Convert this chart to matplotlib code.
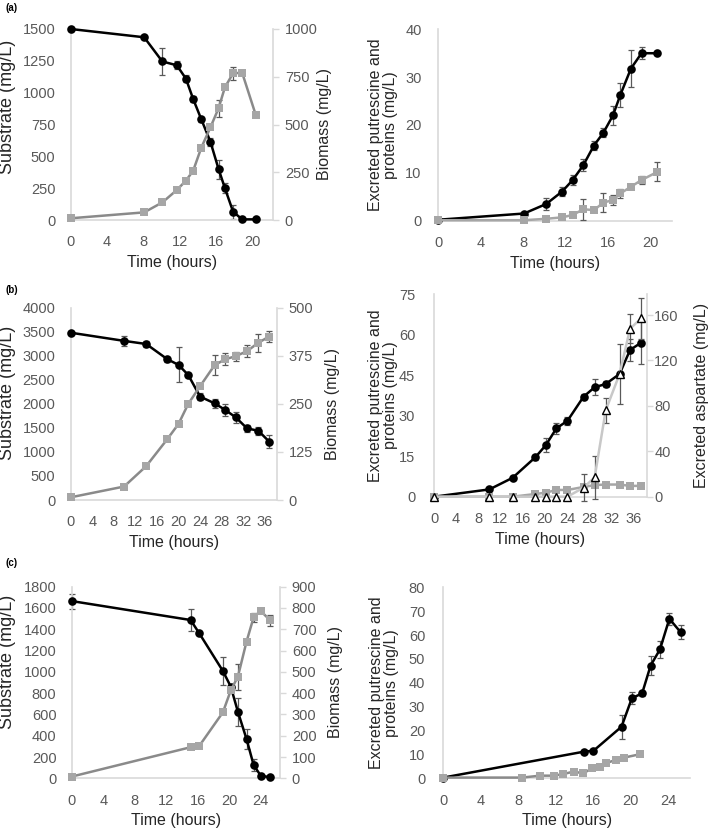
import numpy as np
import matplotlib
matplotlib.use("Agg")
import matplotlib.pyplot as plt

plt.rcParams["font.family"] = ["Liberation Sans", "DejaVu Sans"]

# ---- (a) ----
t_a = [0, 8.1, 10.1, 11.7, 12.7, 13.5, 14.4, 15.4, 16.3, 17.0, 17.9, 18.9, 20.4]
substrate_a = [1500, 1435, 1245, 1215, 1110, 950, 790, 615, 400, 250, 65, 5, 5]
substrate_a_err = [0, 0, 105, 30, 30, 20, 20, 30, 75, 40, 55, 0, 0]
biomass_a = [9, 40, 92, 157, 206, 258, 379, 485, 585, 695, 768, 771, 550]
biomass_a_err = [0, 0, 0, 10, 10, 0, 0, 10, 44, 0, 35, 0, 0]

t_a_ex = [0, 8.1, 10.2, 11.7, 12.7, 13.7, 14.7, 15.6, 16.5, 17.2, 18.2, 19.2, 20.7]
putrescine_a = [0.2, 1.5, 3.5, 6.1, 8.5, 11.6, 15.7, 18.4, 22.0, 26.3, 31.8, 35.0, 35.0]
putrescine_a_err = [0, 0, 1.2, 1.0, 1.0, 1.2, 1.0, 1.0, 1.9, 2.5, 3.9, 1.2, 0]
proteins_a = [0.1, 0.1, 0.4, 0.7, 1.2, 2.4, 2.2, 3.8, 4.3, 5.7, 7.1, 8.5, 10.2]
proteins_a_err = [0, 0, 0, 0, 0, 2.2, 0, 1.9, 1.0, 1.0, 0, 0.8, 2.0]

# ---- (b) ----
t_b = [0, 9.9, 14.0, 17.9, 20.0, 21.8, 24.0, 26.7, 28.7, 30.6, 32.7, 34.8, 36.8]
substrate_b = [3480, 3310, 3245, 2930, 2810, 2600, 2150, 2010, 1870, 1720, 1490, 1440, 1215]
substrate_b_err = [0, 110, 70, 50, 365, 50, 80, 90, 120, 110, 80, 80, 140]
biomass_b = [7, 35, 88, 158, 198, 250, 296, 351, 366, 374, 387, 409, 425]
biomass_b_err = [0, 0, 0, 0, 0, 0, 0, 25, 15, 12, 15, 23, 15]

t_b_ex = [0, 10.0, 14.2, 18.3, 20.2, 22.1, 24.1, 27.0, 29.0, 31.0, 33.5, 35.4, 37.4]
putrescine_b = [0, 2.7, 7.0, 14.6, 19.1, 25.3, 28.1, 37.0, 40.5, 41.7, 45.4, 54.3, 57.0]
putrescine_b_err = [0, 0, 0, 1.0, 2.5, 2.0, 1.5, 1.0, 3.0, 1.0, 11.0, 4.0, 8.0]
proteins_b = [0, 0, 0, 1.0, 1.5, 2.5, 2.5, 3.6, 4.3, 4.5, 4.5, 4.0, 4.0]
aspartate_b = [0, 0, 0, 0, 0, 0, 0, 8, 17, 76, 108, 148, 157]
aspartate_b_err = [0, 0, 0, 0, 0, 0, 0, 12, 19, 11, 0, 13, 18]

# ---- (c) ----
t_c = [0, 15.1, 16.2, 19.2, 20.2, 21.1, 22.2, 23.1, 24.0, 25.2]
substrate_c = [1665, 1487, 1362, 1008, 861, 626, 369, 125, 25, 9]
substrate_c_err = [70, 100, 0, 130, 0, 130, 90, 60, 0, 0]
biomass_c = [8, 146, 152, 310, 413, 477, 642, 756, 786, 742]
biomass_c_err = [0, 0, 0, 0, 0, 60, 0, 20, 0, 25]

t_c_put = [0, 15.05, 16.0, 19.0, 20.1, 21.2, 22.1, 23.1, 24.1, 25.3]
putrescine_c = [0.3, 11.2, 11.5, 21.6, 33.5, 35.6, 47.2, 54.0, 66.8, 61.2]
putrescine_c_err = [0, 0, 0, 5.0, 2.5, 1.0, 4.0, 3.5, 2.5, 3.0]
t_c_prot = [0, 8.4, 10.3, 11.8, 12.8, 13.9, 14.9, 15.9, 16.7, 17.3, 18.4, 19.3, 21.0]
proteins_c = [0.3, 0.3, 1.1, 1.1, 1.8, 2.8, 2.1, 4.2, 4.9, 6.3, 7.7, 8.7, 10.1]

W, H = 709, 834
SPINE = "#d9d9d9"
TICK = "#595959"
DARK_GRAY_LINE = "#8a8a8a"
SQUARE = "#a6a6a6"
TXT = "#262626"


def rect(x0, x1, y0, y1):
    return [x0 / W, 1 - y1 / H, (x1 - x0) / W, (y1 - y0) / H]


def px_to_axes(ax, xpx, ypx=None):
    l, b, w, h = ax.get_position().bounds
    xa = (xpx / W - l) / w
    ya = 0.5 if ypx is None else ((1 - ypx / H) - b) / h
    return xa, ya


def style_left(ax, xlim, xticks, ylim, yticks, ylabel, label_px, label_ypx=None,
               ypad=11, lsize=11.5):
    ax.set_xlim(*xlim)
    ax.set_ylim(*ylim)
    ax.set_xticks(xticks)
    ax.set_yticks(yticks)
    for s in ["top", "right"]:
        ax.spines[s].set_visible(False)
    for s in ["left", "bottom"]:
        ax.spines[s].set_color(SPINE)
        ax.spines[s].set_linewidth(1.2)
    ax.tick_params(axis="y", length=0, pad=ypad, labelsize=10.5, labelcolor=TICK)
    ax.tick_params(axis="x", length=0, pad=11, labelsize=10.5, labelcolor=TICK)
    ax.set_xlabel("Time (hours)", fontsize=11.5, color=TXT, labelpad=4)
    ax.set_ylabel(ylabel, fontsize=lsize, color=TXT, linespacing=1.0)
    # right edge of the rotated label
    ax.yaxis.set_label_coords(*px_to_axes(ax, label_px, label_ypx))


def style_right(ax, ylim, yticks, ylabel, label_px, pad=4.5):
    ax.set_ylim(*ylim)
    ax.set_yticks(yticks)
    for s in ["top", "left", "bottom"]:
        ax.spines[s].set_visible(False)
    ax.spines["right"].set_color(SPINE)
    ax.spines["right"].set_linewidth(1.2)
    ax.tick_params(axis="y", length=4, width=1, color=SPINE, pad=pad,
                   labelsize=10.5, labelcolor=TICK)
    ax.set_ylabel(ylabel, fontsize=11.5, color=TXT)
    # left edge of the rotated label
    ax.yaxis.set_label_coords(*px_to_axes(ax, label_px))


def series(ax, t, y, err=None, marker="o", color="black", mfc=None, lc=None, ms=6.2, z=3):
    t = np.asarray(t)
    y = np.asarray(y)
    if err is not None:
        err = np.asarray(err)
        m = err > 0
        ax.errorbar(t[m], y[m], yerr=err[m], fmt="none", ecolor=TICK,
                    elinewidth=0.9, capsize=2.2, capthick=0.9, zorder=z - 0.5, clip_on=False)
    ax.plot(t, y, "-", color=lc or color, lw=1.8, zorder=z, clip_on=False)
    ax.plot(t, y, linestyle="none", marker=marker, ms=ms,
            mfc=mfc or color, mec=color, mew=1.0 if mfc else 0,
            zorder=z + 0.1, clip_on=False)


fig = plt.figure(figsize=(W / 100, H / 100), dpi=100)

excr_label = "Excreted putrescine and\nproteins (mg/L)"

# (a) left
ax = fig.add_axes(rect(70.7, 273, 29, 220))
style_left(ax, (0, 22.3), range(0, 21, 4), (0, 1500), range(0, 1501, 250),
           "Substrate (mg/L)", 16, 107, lsize=13)
series(ax, t_a, substrate_a, substrate_a_err)
ax2 = ax.twinx()
style_right(ax2, (0, 1000), range(0, 1001, 250), "Biomass (mg/L)", 317)
series(ax2, t_a, biomass_a, biomass_a_err, marker="s", color=SQUARE, lc=DARK_GRAY_LINE, ms=5.8)

# (a) right
ax = fig.add_axes(rect(438.3, 671.7, 29.3, 220.7))
style_left(ax, (0, 22.05), range(0, 21, 4), (0, 40), range(0, 41, 10), excr_label, 398, ypad=12)
series(ax, t_a_ex, putrescine_a, putrescine_a_err)
series(ax, t_a_ex, proteins_a, proteins_a_err, marker="s", color=SQUARE, ms=5.8, z=4)

# (b) left
ax = fig.add_axes(rect(70.7, 276.7, 307.7, 500))
style_left(ax, (0, 38.2), range(0, 37, 4), (0, 4000), range(0, 4001, 500),
           "Substrate (mg/L)", 16, 393, lsize=13)
series(ax, t_b, substrate_b, substrate_b_err)
ax2 = ax.twinx()
style_right(ax2, (0, 500), range(0, 501, 125), "Biomass (mg/L)", 325)
series(ax2, t_b, biomass_b, biomass_b_err, marker="s", color=SQUARE, lc=DARK_GRAY_LINE, ms=5.8)

# (b) right
ax = fig.add_axes(rect(434, 646.7, 294, 496.7))
style_left(ax, (0, 38.4), range(0, 37, 4), (0, 75), range(0, 76, 15), excr_label, 398, ypad=13.5)
series(ax, t_b_ex, putrescine_b, putrescine_b_err)
series(ax, t_b_ex, proteins_b, None, marker="s", color=SQUARE, ms=5.8, z=4)
ax2 = ax.twinx()
style_right(ax2, (0, 178.5), range(0, 161, 40), "Excreted aspartate (mg/L)", 694, pad=1.5)
series(ax2, t_b_ex, aspartate_b, aspartate_b_err, marker="^", color="black",
       mfc="white", lc="#c8c8c8", ms=6.2)

# (c) left
ax = fig.add_axes(rect(71.7, 280, 586.7, 778.3))
style_left(ax, (0, 26.45), range(0, 25, 4), (0, 1800), range(0, 1801, 200),
           "Substrate (mg/L)", 16, 662, lsize=13)
series(ax, t_c, substrate_c, substrate_c_err)
ax2 = ax.twinx()
style_right(ax2, (0, 900), range(0, 901, 100), "Biomass (mg/L)", 328)
series(ax2, t_c, biomass_c, biomass_c_err, marker="s", color=SQUARE, lc=DARK_GRAY_LINE, ms=5.8)

# (c) right
ax = fig.add_axes(rect(443.3, 690, 587.3, 778.3))
style_left(ax, (0, 26.3), range(0, 25, 4), (0, 80), range(0, 81, 10), excr_label, 399, ypad=13)
series(ax, t_c_put, putrescine_c, putrescine_c_err)
series(ax, t_c_prot, proteins_c, None, marker="s", color=SQUARE, lc=DARK_GRAY_LINE, ms=5.8, z=4)

for lab, y in [("(a)", 8), ("(b)", 290), ("(c)", 563)]:
    fig.text(5 / W, 1 - y / H, lab, fontsize=7, fontweight="bold", va="center", ha="left")

fig.savefig("out.png", dpi=100)
